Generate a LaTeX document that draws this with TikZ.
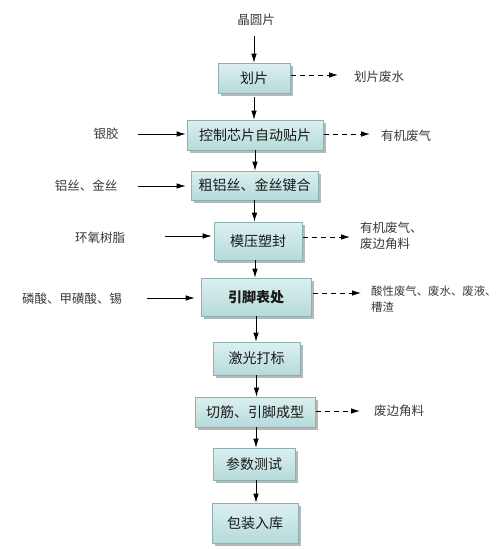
\documentclass[tikz,border=0pt]{standalone}
\usepackage{fontspec}
\setmainfont{Noto Sans CJK SC}
\usetikzlibrary{shadows, arrows.meta}

\definecolor{boxtop}{HTML}{DCF0F0}
\definecolor{boxbot}{HTML}{B6DADA}
\definecolor{boxline}{HTML}{8AB2B4}
\definecolor{sidetext}{HTML}{3A3A3A}

\tikzset{
    proc/.style={draw=boxline, line width=0.6pt, top color=boxtop, bottom color=boxbot,
        drop shadow={shadow xshift=2.5pt, shadow yshift=-2.5pt, fill=black!35, opacity=0.8},
        font=\fontsize{14}{16}\selectfont, text=black!90, inner sep=0pt},
    side/.style={font=\fontsize{12.5}{16}\selectfont, text=sidetext, inner sep=0pt},
    flow/.style={-{Latex[length=9pt, width=5.5pt]}, line width=0.8pt},
    waste/.style={-{Latex[length=9pt, width=5.5pt]}, line width=0.8pt, dash pattern=on 5pt off 4pt}
}

\begin{document}
\begin{tikzpicture}[x=1pt, y=-1pt]

    \useasboundingbox (0, 0) rectangle (500, 549);

    % process boxes
    \node[proc, minimum width=72, minimum height=30] (huapian) at (254, 78) {划片};
    \node[proc, minimum width=136, minimum height=30] (tiepian) at (255, 135) {控制芯片自动贴片};
    \node[proc, minimum width=127, minimum height=29] (jianhe) at (254.5, 185.5) {粗铝丝、金丝键合};
    \node[proc, minimum width=88, minimum height=38] (sufeng) at (258, 241) {模压塑封};
    \node[proc, minimum width=110, minimum height=38] (biaochu) at (256, 297) {\bfseries 引脚表处};
    \node[proc, minimum width=87, minimum height=33] (dabiao) at (256.5, 358.5) {激光打标};
    \node[proc, minimum width=120, minimum height=30] (chengxing) at (255, 412) {切筋、引脚成型};
    \node[proc, minimum width=82, minimum height=32] (ceshi) at (254, 464) {参数测试};
    \node[proc, minimum width=86, minimum height=40] (ruku) at (255, 523) {包装入库};

    % inputs
    \node[side] (jingyuan) at (256, 20) {晶圆片};
    \node[side] (yinjiao) at (106, 134) {银胶};
    \node[side] (lvsi) at (86, 186) {铝丝、金丝};
    \node[side] (shuzhi) at (100, 238) {环氧树脂};
    \node[side] (linsuan) at (72, 299) {磷酸、甲磺酸、锡};

    % outputs
    \node[side, anchor=west] (feishui) at (354, 77) {划片废水};
    \node[side, anchor=west] (feiqi) at (381, 136) {有机废气};
    \node[side, anchor=west, align=left] (feiliao) at (360, 236) {有机废气、\\废边角料};
    \node[side, anchor=west, align=left, font=\fontsize{11.4}{16}\selectfont] (suanxing) at (371, 299) {酸性废气、废水、废液、\\槽渣};
    \node[side, anchor=west] (bianjiao) at (374, 411) {废边角料};

    % main flow
    \draw[flow] (jingyuan.south) ++(-2, 10) coordinate (top) -- (top |- huapian.north);
    \draw[flow] (huapian.south) ++(0, 4) coordinate (a1) -- (a1 |- tiepian.north);
    \draw[flow] (tiepian.south) -- (tiepian.south |- jianhe.north);
    \draw[flow] (jianhe.south) -- (jianhe.south |- sufeng.north);
    \draw[flow] (sufeng.south) ++(-3, 0) coordinate (a2) -- (a2 |- biaochu.north);
    \draw[flow] (biaochu.south) -- (biaochu.south |- dabiao.north);
    \draw[flow] (dabiao.south) -- (dabiao.south |- chengxing.north);
    \draw[flow] (chengxing.south) ++(1, 0) coordinate (a3) -- (a3 |- ceshi.north);
    \draw[flow] (ceshi.south) ++(2, 0) coordinate (a4) -- (a4 |- ruku.north);

    % materials in
    \coordinate (in1) at (138, 134);
    \coordinate (in2) at (138, 186);
    \coordinate (in3) at (165, 236);
    \coordinate (in4) at (147, 298);
    \draw[flow] (in1) -- ([xshift=-1]tiepian.west |- in1);
    \draw[flow] (in2) -- ([xshift=-5]jianhe.west |- in2);
    \draw[flow] (in3) -- ([xshift=-2]sufeng.west |- in3);
    \draw[flow] (in4) -- ([xshift=-6]biaochu.west |- in4);

    % waste out
    \coordinate (out1) at (338, 75);
    \coordinate (out2) at (370, 134);
    \coordinate (out3) at (350, 237);
    \coordinate (out4) at (361, 293);
    \coordinate (out5) at (360, 411);
    \draw[waste] ([xshift=1]huapian.east |- out1) -- (out1);
    \draw[waste] ([xshift=1]tiepian.east |- out2) -- (out2);
    \draw[waste] ([xshift=1]sufeng.east |- out3) -- (out3);
    \draw[waste] ([xshift=2]biaochu.east |- out4) -- (out4);
    \draw[waste] ([xshift=1]chengxing.east |- out5) -- (out5);

\end{tikzpicture}
\end{document}
